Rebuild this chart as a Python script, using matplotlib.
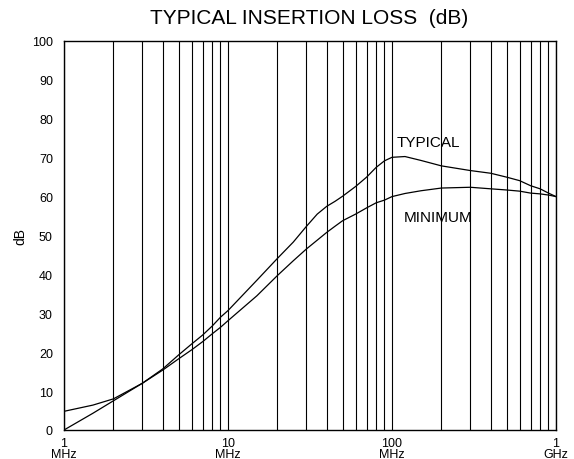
import matplotlib
matplotlib.use('Agg')
import matplotlib.pyplot as plt
from matplotlib.ticker import FixedLocator, NullFormatter

plt.rcParams['font.family'] = ['Liberation Sans', 'DejaVu Sans']

# frekuensi dalam MHz
freq = [1, 1.5, 2, 3, 4, 5, 6, 7, 8, 9, 10, 15, 20, 25, 30, 35, 40, 45, 50,
        60, 70, 80, 90, 100, 120, 150, 200, 300, 400, 500, 600, 700, 800, 900, 1000]
typical = [4.8, 6.4, 8.0, 12.0, 15.7, 19.3, 22.1, 24.4, 26.7, 29.0, 30.7, 38.5, 44.1,
           48.3, 52.3, 55.5, 57.5, 58.8, 60.1, 62.6, 65.0, 67.5, 69.2, 70.1, 70.3,
           69.3, 67.9, 66.7, 66.0, 65.0, 64.1, 62.8, 62.0, 60.9, 60.0]
minimum = [0.0, 4.3, 7.5, 12.0, 15.4, 18.3, 20.6, 22.7, 24.7, 26.4, 28.1, 34.5, 39.7,
           43.5, 46.5, 48.8, 50.8, 52.4, 53.8, 55.5, 57.1, 58.4, 59.1, 60.0, 60.8,
           61.5, 62.2, 62.4, 62.0, 61.7, 61.4, 60.9, 60.7, 60.4, 60.0]

x_ticks = [1, 10, 100, 1000]
x_labels = ['1\nMHz', '10\nMHz', '100\nMHz', '1\nGHz']
y_ticks = [0, 10, 20, 30, 40, 50, 60, 70, 80, 90, 100]
grid_freq = [m * 10 ** k for k in range(3) for m in range(2, 10)] + [10, 100]

fig = plt.figure(figsize=(5.74, 4.6), dpi=100)
ax = fig.add_axes([64 / 574, 1 - 431 / 460, 492 / 574, 389 / 460])

ax.plot(freq, typical, color='black', lw=0.9)
ax.plot(freq, minimum, color='black', lw=0.9)

ax.set_xscale('log')
ax.set_xlim(1, 1000)
ax.set_ylim(0, 100)

ax.xaxis.set_major_locator(FixedLocator(x_ticks))
ax.set_xticklabels(x_labels)
ax.xaxis.set_minor_locator(FixedLocator(grid_freq))
ax.xaxis.set_minor_formatter(NullFormatter())
ax.set_yticks(y_ticks)
ax.xaxis.grid(True, which='both', color='black', lw=0.8)
ax.tick_params(axis='both', which='both', length=0, labelsize=9)
ax.tick_params(axis='x', pad=5)
ax.tick_params(axis='y', pad=8)
for lbl in ax.get_xticklabels():
    lbl.set_linespacing(0.9)

for s in ax.spines.values():
    s.set_linewidth(1.0)

ax.text(0.677, 0.74, 'TYPICAL', transform=ax.transAxes, fontsize=11, ha='left', va='center')
ax.text(0.691, 0.548, 'MINIMUM', transform=ax.transAxes, fontsize=11, ha='left', va='center')

ax.set_ylabel('dB', fontsize=10, labelpad=3)
fig.text(309 / 574, 1 - 19 / 460, 'TYPICAL INSERTION LOSS  (dB)', fontsize=15,
         ha='center', va='center')

fig.savefig('out.png', dpi=100)
